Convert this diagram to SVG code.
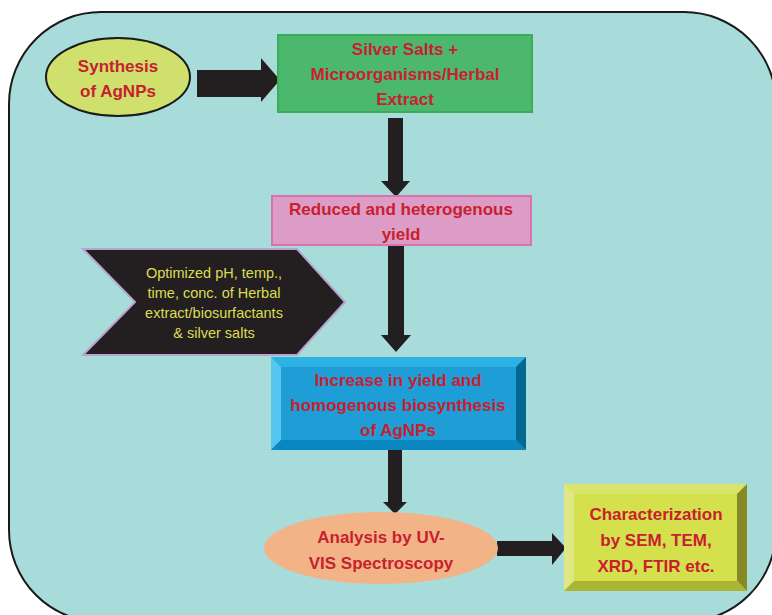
<svg xmlns="http://www.w3.org/2000/svg" width="772" height="615" viewBox="0 0 772 615">
<defs>
<style>
.t{font-family:"Liberation Sans",Arial,sans-serif;font-weight:bold;font-size:17px;fill:#c8202f;text-anchor:middle}
.c{font-family:"Liberation Sans",Arial,sans-serif;font-size:14.5px;fill:#dcdc55;text-anchor:middle}
.arr{fill:#231f20}
</style>
</defs>
<rect x="9" y="12" width="767" height="610" rx="92" ry="92" fill="#a8dcdb" stroke="#1a1a1a" stroke-width="2"/>
<g id="connectors">
<polygon class="arr" points="197,70 261,70 261,58 280,80 261,102 261,97 197,97"/>
<polygon class="arr" points="388,118 403,118 403,181 410,181 396,197 381,181 388,181"/>
<polygon class="arr" points="388,245 404,245 404,335 411,335 396,352 381,335 388,335"/>
<polygon class="arr" points="388,450 402,450 402,502 407,502 395,514 383,502 388,502"/>
<polygon class="arr" points="497,541 552,541 552,533 566,548 552,565 552,556 497,556"/>
</g>
<g id="synthesis">
<ellipse cx="118" cy="77" rx="72" ry="39" fill="#cfe06c" stroke="#1a1a1a" stroke-width="2"/>
<text class="t" x="118" y="72">Synthesis</text>
<text class="t" x="118" y="97">of AgNPs</text>
</g>
<g id="silver">
<rect x="278" y="35" width="254" height="77" fill="#4cb86e" stroke="#3aad55" stroke-width="2"/>
<text class="t" x="405" y="55">Silver Salts +</text>
<text class="t" x="405" y="80">Microorganisms/Herbal</text>
<text class="t" x="405" y="105">Extract</text>
</g>
<g id="reduced">
<rect x="272" y="196" width="259" height="49" fill="#dd9cc5" stroke="#d873ad" stroke-width="2"/>
<text class="t" x="401" y="215">Reduced and heterogenous</text>
<text class="t" x="401" y="240">yield</text>
</g>
<g id="optimized">
<polygon points="83,249 297,249 345,302 297,355 83,355 135,302" fill="#231f20" stroke="#b8a3cc" stroke-width="2"/>
<text class="c" x="214" y="278">Optimized pH, temp.,</text>
<text class="c" x="214" y="298">time, conc. of Herbal</text>
<text class="c" x="214" y="318">extract/biosurfactants</text>
<text class="c" x="214" y="338">&amp; silver salts</text>
</g>
<g id="increase">
<rect x="271" y="357" width="255" height="93" fill="#1e9dd6"/>
<polygon points="271,357 526,357 516,367 281,367" fill="#2cb3e4"/>
<polygon points="271,357 281,367 281,440 271,450" fill="#55c6f0"/>
<polygon points="526,357 526,450 516,440 516,367" fill="#046890"/>
<polygon points="271,450 281,440 516,440 526,450" fill="#0a86c0"/>
<text class="t" x="398" y="386">Increase in yield and</text>
<text class="t" x="398" y="411">homogenous biosynthesis</text>
<text class="t" x="398" y="436">of AgNPs</text>
</g>
<g id="analysis">
<ellipse cx="381" cy="548" rx="117" ry="36" fill="#f2b487"/>
<text class="t" x="381" y="543">Analysis by UV-</text>
<text class="t" x="381" y="569">VIS Spectroscopy</text>
</g>
<g id="characterization">
<rect x="564" y="484" width="183" height="107" fill="#d4e04c"/>
<polygon points="564,484 747,484 737,494 574,494" fill="#dbe46a"/>
<polygon points="564,484 574,494 574,581 564,591" fill="#e0e886"/>
<polygon points="747,484 747,591 737,581 737,494" fill="#858a26"/>
<polygon points="564,591 574,581 737,581 747,591" fill="#aab536"/>
<text class="t" x="656" y="520">Characterization</text>
<text class="t" x="656" y="546">by SEM, TEM,</text>
<text class="t" x="656" y="572">XRD, FTIR etc.</text>
</g>
</svg>
